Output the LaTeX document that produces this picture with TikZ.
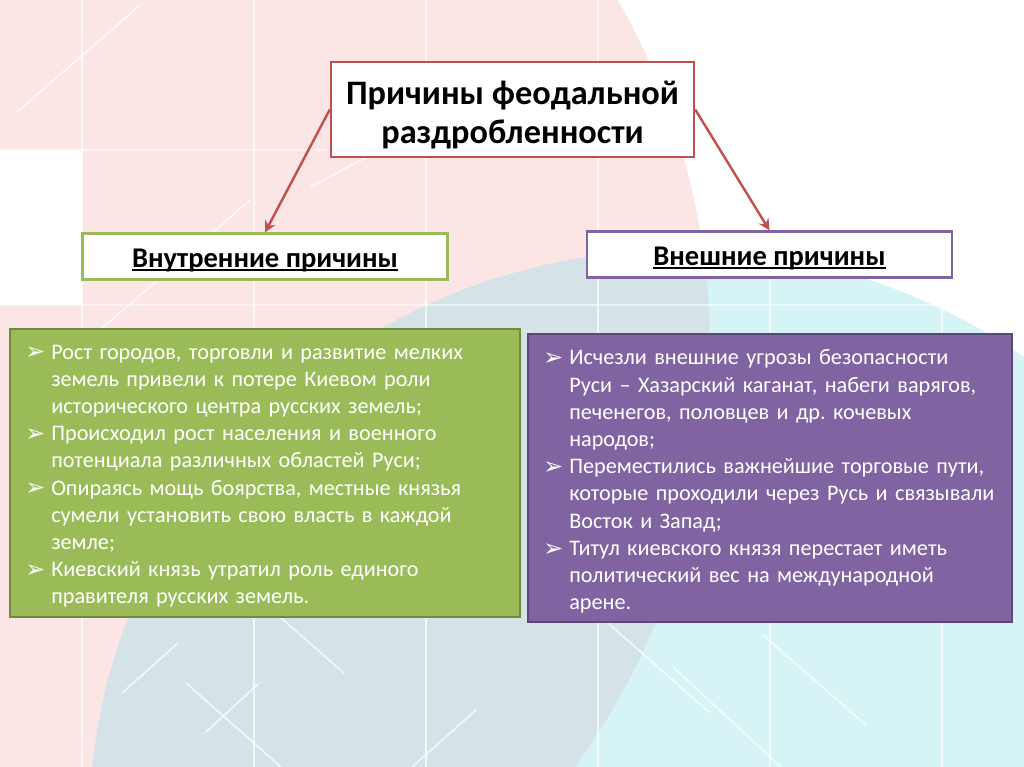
\documentclass[tikz,border=0pt]{standalone}
\usepackage{fontspec}
\setmainfont{Carlito}
\newfontfamily\dingfont{DejaVu Sans}
\usepackage{tikz}
\usetikzlibrary{arrows.meta,positioning}

\definecolor{redline}{HTML}{C0504D}
\definecolor{causeGreen}{HTML}{9BBB59}
\definecolor{causeGreenDark}{HTML}{6F8A3C}
\definecolor{causePurple}{HTML}{8064A2}
\definecolor{causePurpleDark}{HTML}{5B4778}
\definecolor{pinkbg}{HTML}{FCE5E5}
\definecolor{cyanbg}{HTML}{D6F3F6}
\definecolor{greybg}{HTML}{D5E3E8}

\newlength\px
\setlength\px{0.025cm}
\newcommand{\bul}{\makebox[26\px][l]{\raisebox{-0.5pt}{\dingfont\fontsize{17}{17}\selectfont\char"27A2}}}
\newcommand{\ind}{\hspace*{26\px}}
\newcommand{\hdr}[1]{\setbox0\hbox{#1}\rlap{\rule[-2.4pt]{\wd0}{1.3pt}}\box0}

\begin{document}
\begin{tikzpicture}[x=0.025cm, y=-0.025cm,
  topbox/.style={draw=redline, line width=2.4\px, fill=white, minimum width=363\px, minimum height=95\px, align=center, font=\bfseries\fontsize{24.4}{27.6}\selectfont},
  headbox/.style={line width=2.2\px, fill=white, minimum width=365\px, minimum height=46\px, font=\bfseries\fontsize{20.3}{23}\selectfont},
  listbox/.style={line width=2\px, minimum height=288\px},
  listtext/.style={inner sep=0pt, text=white, text width=470\px, align=left, font=\fontsize{15.8}{19.35}\selectfont},
  arr/.style={-{Stealth[length=8pt, width=8pt]}, draw=redline, line width=2.4\px},
]
\useasboundingbox (0,0) rectangle (1024,767);
% background
\begin{scope}
\clip (0,0) rectangle (1024,767);
\fill[white] (0,0) rectangle (1024,767);
\fill[pinkbg] (0,350) circle [radius=710];
\fill[white] (0,150) rectangle (82,305);
\fill[cyanbg] (680,820) ellipse [x radius=590, y radius=570];
\begin{scope}
\clip (0,350) circle [radius=710];
\fill[greybg] (680,820) ellipse [x radius=590, y radius=570];
\end{scope}
\foreach \gx in {82,254,426,598,770,942}
  \draw[white, line width=1.2\px, opacity=0.7] (\gx,0) -- (\gx,767);
\foreach \gy in {150,305}
  \draw[white, line width=1.2\px, opacity=0.5] (0,\gy) -- (1024,\gy);
\foreach \ax/\ay/\bx/\by in {17/112/140/5, 100/330/250/200, 367/157/310/187, 281/618/344/673,
    178/643/122/693, 186/683/281/767, 259/683/205/733, 476/710/412/767,
    608/623/710/713, 673/667/781/767, 763/635/866/725}
  \draw[white, line width=1.6\px, opacity=0.75] (\ax,\ay) -- (\bx,\by);
\end{scope}

\node[topbox] (title) at (512.5,109.5) {\rule{0pt}{24pt}Причины феодальной\\раздробленности};
\node[headbox, draw=causeGreen] (inner) at (265,256.5) {\rule{0pt}{19pt}\hdr{Внутренние причины}};
\node[headbox, draw=causePurple] (outer) at (769.5,254.5) {\rule{0pt}{19pt}\hdr{Внешние причины}};

\node[listbox, fill=causeGreen, draw=causeGreenDark, minimum width=510\px] (innerlist) at (265,472.5) {};
\node[listbox, fill=causePurple, draw=causePurpleDark, minimum width=484\px] (outerlist) at (770,477.5) {};

\node[listtext, below right=17\px and 16\px of innerlist.north west] (innertext) {%
\bul Рост городов, торговли и развитие мелких\\
\ind земель привели к потере Киевом роли\\
\ind исторического центра русских земель;\\
\bul Происходил рост населения и военного\\
\ind потенциала различных областей Руси;\\
\bul Опираясь мощь боярства, местные князья\\
\ind сумели установить свою власть в каждой\\
\ind земле;\\
\bul Киевский князь утратил роль единого\\
\ind правителя русских земель.};

\node[listtext, below right=17\px and 16\px of outerlist.north west] (outertext) {%
\bul Исчезли внешние угрозы безопасности\\
\ind Руси – Хазарский каганат, набеги варягов,\\
\ind печенегов, половцев и др.\ кочевых\\
\ind народов;\\
\bul Переместились важнейшие торговые пути,\\
\ind которые проходили через Русь и связывали\\
\ind Восток и Запад;\\
\bul Титул киевского князя перестает иметь\\
\ind политический вес на международной\\
\ind арене.};

\draw[arr] (title.west) -- (inner.north);
\draw[arr] (title.east) -- (outer.north);
\end{tikzpicture}
\end{document}
